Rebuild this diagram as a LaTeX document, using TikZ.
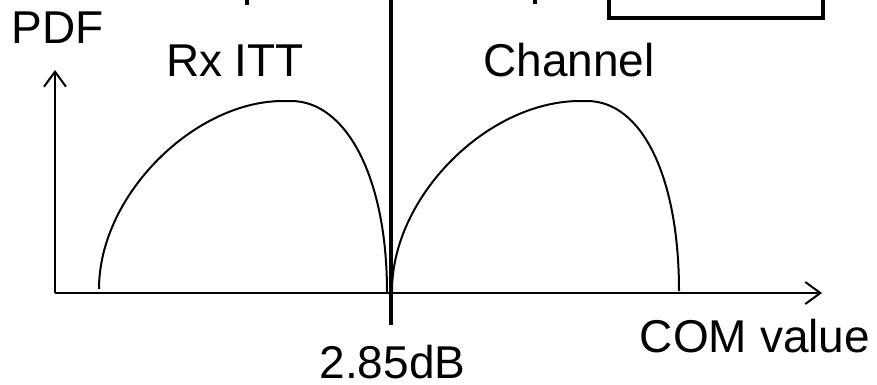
\documentclass[tikz,border=0pt]{standalone}
\usepackage{fontspec}
\setmainfont{Liberation Sans}
\usetikzlibrary{arrows.meta}
\tikzset{
  lbl/.style={inner sep=0pt, anchor=base, font=\fontsize{46}{50}\selectfont},
  axis/.style={line width=2pt, -{Straight Barb[length=15pt,width=22pt,line width=2pt]}},
  pdfcurve/.style={line width=2pt},
  thick line/.style={line width=4.5pt},
  boxline/.style={line width=4pt}
}
\begin{document}
\begin{tikzpicture}[x=1pt,y=-1pt]
\useasboundingbox (0,0) rectangle (877,384);
\clip (0,0) rectangle (877,384);
% cropped top elements
\draw[line width=4pt] (247,-20) -- (247,4.5);
\draw[line width=4pt] (535,-20) -- (535,4);
\draw[boxline] (609,-40) -- (609,17.5) -- (822.5,17.5) -- (822.5,-40);
% axes
\coordinate (O) at (55,293);
\coordinate (Ytip) at (55,70);
\coordinate (Xtip) at (822,293);
\draw[axis] (O) -- (Ytip);
\draw[axis] (O) -- (Xtip);
% threshold line
\coordinate (Ttop) at (391,-20);
\coordinate (Tbot) at (391,325);
\draw[thick line] (Ttop) -- (Tbot);
% Rx ITT curve
\draw[pdfcurve] (99,289) .. controls (99,194.5) and (195,101) .. (283,101)
  -- (291,101) .. controls (346,101) and (387,177) .. (387,292);
% Channel curve
\draw[pdfcurve] (392,291) .. controls (392,196) and (488,101) .. (580,101)
  -- (587,101) .. controls (642,101) and (679,177) .. (679,291);
% labels
\node[lbl] (pdf) at (57.5,43) {PDF};
\node[lbl] (rx) at (235,76) {Rx ITT};
\node[lbl] (ch) at (569,76) {Channel};
\node[lbl] (com) at (755,352) {COM value};
\node[lbl] (db) at (392.5,378) {2.85dB};
\end{tikzpicture}
\end{document}
